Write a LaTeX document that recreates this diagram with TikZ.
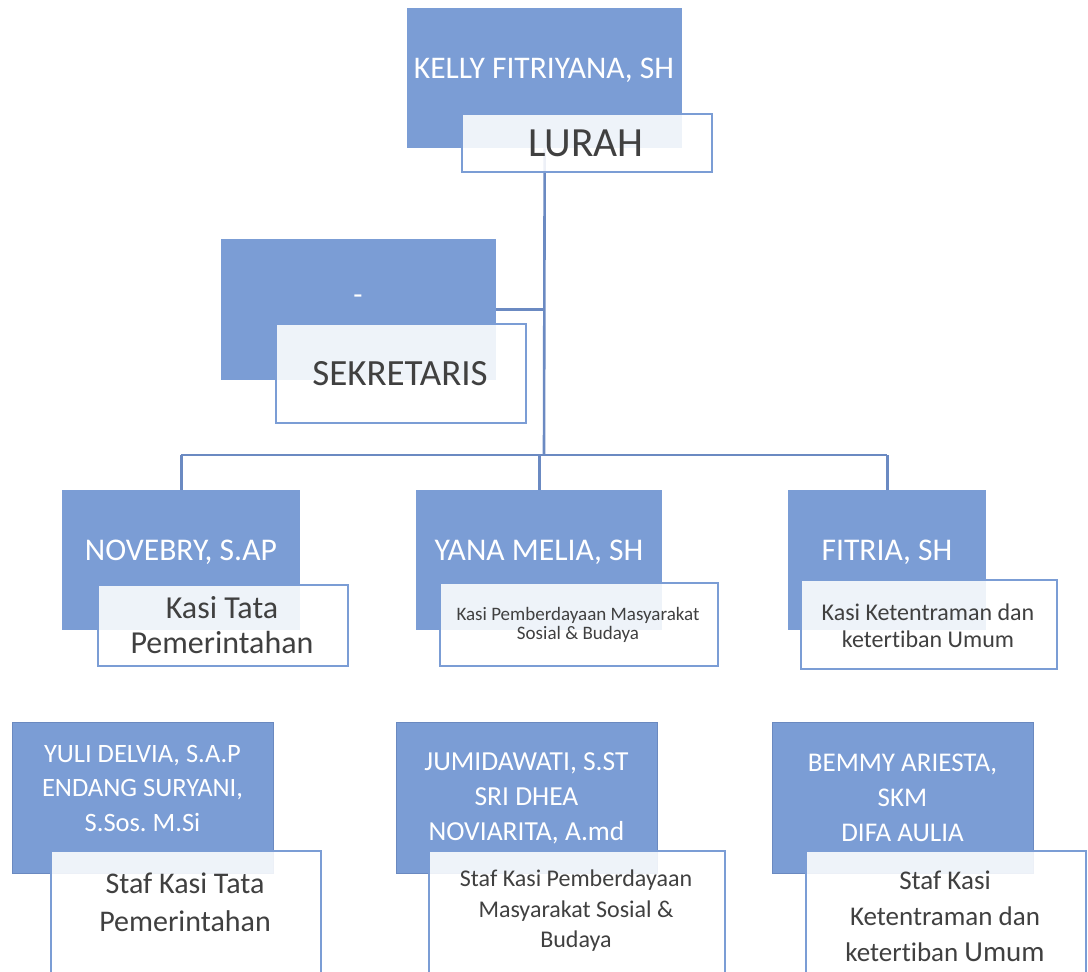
\documentclass[tikz,border=0pt]{standalone}
\usepackage{fontspec}
\setmainfont{Carlito}[Ligatures=NoCommon]
\usetikzlibrary{backgrounds}
\definecolor{bfill}{HTML}{7B9DD5}
\definecolor{bline}{HTML}{7B9DD5}
\definecolor{connc}{HTML}{6B8AC2}
\definecolor{sline}{HTML}{6A89C0}
\definecolor{tgrey}{HTML}{404040}
\tikzset{
  bluebox/.style={fill=bfill, draw=none, inner sep=0pt, anchor=north west},
  staffblue/.style={bluebox, draw=sline, line width=1.2pt},
  whitebox/.style={fill=white, fill opacity=0.88, draw=bline, line width=2.4pt, inner sep=0pt, anchor=north west},
  connline/.style={draw=connc, line width=2.6pt},
  btext/.style={text=white, align=center, inner sep=0pt},
  wtext/.style={text=tgrey, align=center, inner sep=0pt},
  fs/.style n args={2}{font=\fontsize{#1}{#2}\selectfont\frenchspacing},
}
\newcommand{\bx}[6]{\node[#1, minimum width=#4pt-#2pt, minimum height=#5pt-#3pt] (#6) at (#2,#3) {};}
\begin{document}
\frenchspacing
\begin{tikzpicture}[x=1pt,y=-1pt]
\useasboundingbox (0,0) rectangle (1088,972);
% top
\bx{bluebox}{407}{8}{682}{148}{kelly}
\bx{whitebox}{461}{113}{711}{171}{lurah}
\node[btext, fs={31.5}{38}] (kellyt) at (544,70) {KELLY FITRIYANA, SH};
\node[wtext, fs={41.5}{48}] (luraht) at (586,143) {LURAH};
% sekretaris
\bx{bluebox}{221}{239}{496}{380}{sekb}
\bx{whitebox}{275}{323}{525}{422}{sekw}
\node[btext, fs={30}{36}] (sekbt) at (358,300) {-};
\node[wtext, fs={37}{44}] (sekwt) at (400,374) {SEKRETARIS};
% kasi row
\bx{bluebox}{62}{490}{300}{630}{novb}
\bx{whitebox}{97}{584}{347}{665}{novw}
\node[btext, fs={31.6}{38}] (novbt) at (181,552) {NOVEBRY, S.AP};
\node[wtext, fs={32}{35}] (novwt) at (222,625) {Kasi Tata\\Pemerintahan};
\bx{bluebox}{416}{490}{662}{630}{yanb}
\bx{whitebox}{439}{582}{717}{665}{yanw}
\node[btext, fs={31.6}{38}] (yanbt) at (539,552) {YANA MELIA, SH};
\node[wtext, fs={19}{19.5}] (yanwt) at (578,625) {Kasi Pemberdayaan Masyarakat\\Sosial \& Budaya};
\bx{bluebox}{788}{490}{986}{630}{fitb}
\bx{whitebox}{800}{579}{1056}{668}{fitw}
\node[btext, fs={31.6}{38}] (fitbt) at (887,552) {FITRIA, SH};
\node[wtext, fs={24}{27}] (fitwt) at (928,626) {Kasi Ketentraman dan\\ketertiban Umum};
% staff row
\bx{staffblue}{12}{722}{273}{873}{yulb}
\bx{whitebox}{50}{850}{320}{980}{yulw}
\node[btext, fs={26.5}{34.5}] (yulbt) at (142.5,788) {YULI DELVIA, S.A.P\\ENDANG SURYANI,\\S.Sos. M.Si};
\node[wtext, fs={30}{38}] (yulwt) at (185,902) {Staf Kasi Tata\\Pemerintahan};
\bx{staffblue}{396}{722}{657}{873}{jumb}
\bx{whitebox}{428}{850}{724}{980}{jumw}
\node[btext, fs={27.5}{35}] (jumbt) at (526.5,798) {JUMIDAWATI, S.ST\\SRI DHEA\\NOVIARITA, A.md};
\node[wtext, fs={24}{30.5}] (jumwt) at (576,911) {Staf Kasi Pemberdayaan\\Masyarakat Sosial \&\\Budaya};
\bx{staffblue}{772}{722}{1033}{873}{bemb}
\bx{whitebox}{805}{850}{1085}{980}{bemw}
\node[btext, fs={27}{35}] (bembt) at (902.5,798) {BEMMY ARIESTA,\\SKM\\DIFA AULIA};
\node[wtext, fs={27}{36}] (bemwt) at (945,916) {Staf Kasi\\Ketentraman dan\\ketertiban {\fontsize{29}{36}\selectfont Umum}};
% connectors
\coordinate (hub) at (544,455);
\begin{pgfonlayer}{background}
\draw[connline] (kelly.south) -- (hub);
\draw[connline] (sekb.east) -- (sekb.east -| hub);
\draw[connline] (hub -| novb.north) -- (hub -| fitb.north);
\draw[connline] (hub -| novb.north) -- (novb.north);
\draw[connline] (hub -| yanb.north) -- (yanb.north);
\draw[connline] (hub -| fitb.north) -- (fitb.north);
\end{pgfonlayer}
\end{tikzpicture}
\end{document}
